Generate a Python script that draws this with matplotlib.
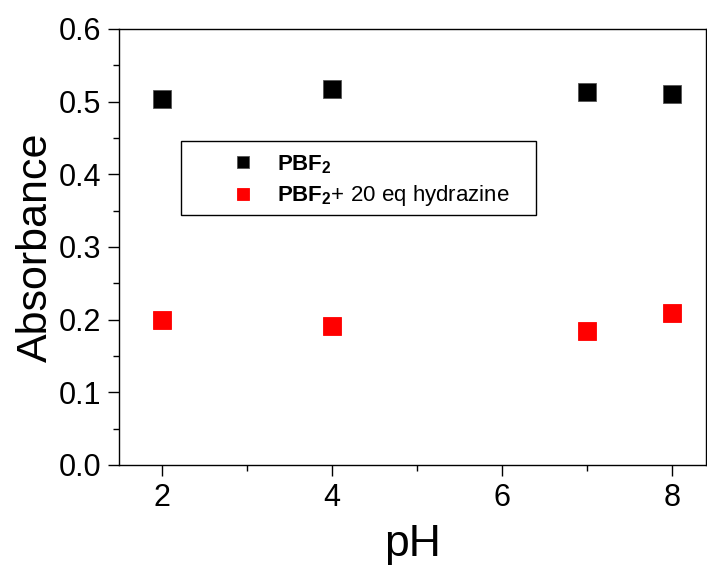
import numpy as np
import matplotlib.pyplot as plt
from matplotlib.ticker import MultipleLocator
from matplotlib.patches import Rectangle

plt.rcParams['font.family'] = ['Liberation Sans', 'DejaVu Sans']
plt.rcParams['mathtext.fontset'] = 'custom'
plt.rcParams['mathtext.rm'] = 'Liberation Sans'
plt.rcParams['mathtext.bf'] = 'Liberation Sans:bold'

ph = np.array([2, 4, 7, 8])
abs_pbf2 = np.array([0.503, 0.518, 0.513, 0.510])
abs_hydrazine = np.array([0.199, 0.191, 0.185, 0.209])

fig = plt.figure(figsize=(7.07, 5.67), dpi=100)
ax = fig.add_axes([119 / 707, 1 - 465 / 567, 587 / 707, 436 / 567])

ax.plot(ph, abs_pbf2, 's', color='black', markersize=13, markeredgecolor='#555555',
        markeredgewidth=0.6, label=r'$\mathbf{PBF_2}$')
ax.plot(ph, abs_hydrazine, 's', color='#ff0000', markersize=13, markeredgecolor='#ff0000',
        markeredgewidth=0.6, label=r'$\mathbf{PBF_2}$+ 20 eq hydrazine')

ax.set_xlim(1.5, 8.4)
ax.set_ylim(0, 0.6)
ax.xaxis.set_major_locator(MultipleLocator(2))
ax.xaxis.set_minor_locator(MultipleLocator(1))
ax.yaxis.set_major_locator(MultipleLocator(0.1))
ax.yaxis.set_minor_locator(MultipleLocator(0.05))
ax.yaxis.set_major_formatter(plt.FuncFormatter(lambda v, p: "{:.1f}".format(v)))
ax.tick_params(which='major', direction='out', length=8, width=1, labelsize=22, pad=5)
ax.tick_params(which='minor', direction='out', length=4, width=1)
for s in ax.spines.values():
    s.set_linewidth(1)

ax.set_xlabel("pH", fontsize=32, labelpad=8)
ax.set_ylabel("Absorbance", fontsize=31, labelpad=2)

# legend entries without frame, frame drawn separately
leg = ax.legend(loc='upper left', bbox_to_anchor=(217 / 707, 1 - 153 / 567),
                bbox_transform=fig.transFigure, fontsize=16, markerscale=0.65,
                frameon=False, borderpad=0, handlelength=2.3, handletextpad=0.4,
                borderaxespad=0, labelspacing=0.35)
fig.add_artist(Rectangle((181 / 707, 1 - 215 / 567), 355 / 707, 74 / 567,
                         transform=fig.transFigure, fill=False, lw=1, ec='black'))

fig.savefig("out.png", dpi=100)
